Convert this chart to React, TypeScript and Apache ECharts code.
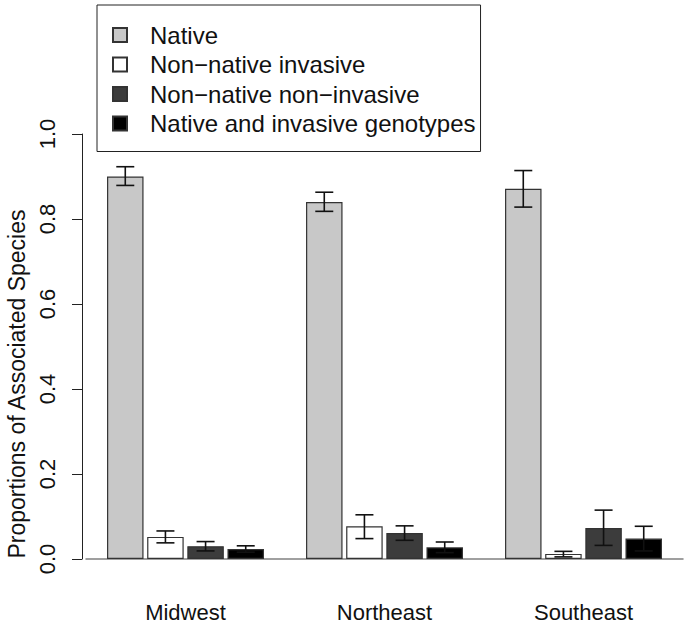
import React, { useEffect, useRef } from "react";
import * as echarts from "echarts";

const regions = ["Midwest", "Northeast", "Southeast"];
const seriesNames = [
  "Native",
  "Non\u2212native invasive",
  "Non\u2212native non\u2212invasive",
  "Native and invasive genotypes",
];
const native = [0.9, 0.84, 0.871];
const nonNativeInvasive = [0.052, 0.077, 0.012];
const nonNativeNonInvasive = [0.03, 0.061, 0.073];
const nativeInvasiveGeno = [0.0235, 0.0275, 0.048];
const nativeErr = [[0.879, 0.923], [0.818, 0.863], [0.828, 0.914]];
const nniErr = [[0.038, 0.066], [0.048, 0.104], [0.005, 0.018]];
const nnniErr = [[0.019, 0.041], [0.044, 0.078], [0.032, 0.115]];
const nigErr = [[0.016, 0.031], [0.015, 0.04], [0.019, 0.077]];
const yTicks = [0, 0.2, 0.4, 0.6, 0.8, 1.0];
const yTitle = "Proportions of Associated Species";

const fills = ["#c8c8c8", "#ffffff", "#3c3c3c", "#000000"];
const FONT = "Liberation Sans, Arial, Helvetica, sans-serif";
const BAR_W = 36.5;
const GAP_FRAC = 0.1;

export default function App() {
  const ref = useRef<HTMLDivElement>(null);
  useEffect(() => {
    if (!ref.current) return;
    const chart = echarts.init(ref.current, null, { renderer: "svg" });
    const values = [native, nonNativeInvasive, nonNativeNonInvasive, nativeInvasiveGeno];
    const errs = [nativeErr, nniErr, nnniErr, nigErr];
    const errData: number[][] = [];
    errs.forEach((e, si) => e.forEach((lh, ci) => errData.push([ci, si, lh[0], lh[1]])));
    const gap = BAR_W * GAP_FRAC;
    const total = 4 * BAR_W + 3 * gap;

    chart.setOption({
      animation: false,
      textStyle: { fontFamily: FONT },
      grid: { left: 86, width: 597, top: 134, bottom: 71 },
      legend: {
        data: seriesNames,
        orient: "vertical",
        left: 97,
        top: 5,
        padding: [18, 5, 16, 15],
        itemWidth: 14,
        itemHeight: 14,
        itemGap: 5.5,
        borderColor: "#222",
        borderWidth: 1,
        icon: "rect",
        selectedMode: false,
        textStyle: { fontSize: 24, color: "#111", lineHeight: 20, padding: [0, 0, 0, 18], fontFamily: FONT },
      },
      xAxis: {
        type: "category",
        data: regions,
        axisLine: { show: true, lineStyle: { color: "#808080", width: 1.5 } },
        axisTick: { show: false },
        axisLabel: { margin: 42, fontSize: 22, color: "#111", fontFamily: FONT },
      },
      yAxis: {
        type: "value",
        min: 0,
        max: 1,
        interval: 0.2,
        offset: 4,
        splitLine: { show: false },
        axisLine: { show: true, lineStyle: { color: "#222", width: 1 } },
        axisTick: { show: true, length: 10, lineStyle: { color: "#222" } },
        axisLabel: {
          rotate: 90,
          margin: 24,
          fontSize: 22,
          color: "#111",
          fontFamily: FONT,
          formatter: (v: number) => (yTicks.some((t) => Math.abs(t - v) < 1e-9) ? v.toFixed(1) : ""),
        },
      },
      graphic: [
        {
          type: "text",
          x: 17,
          y: 384,
          rotation: Math.PI / 2,
          style: {
            text: yTitle,
            fontSize: 23,
            fontFamily: FONT,
            fill: "#111",
            textAlign: "center",
            textVerticalAlign: "middle",
          },
        },
      ],
      series: [
        ...values.map((d, i) => ({
          name: seriesNames[i],
          type: "bar",
          data: d,
          barWidth: BAR_W,
          barGap: GAP_FRAC * 100 + "%",
          itemStyle: { color: fills[i], borderColor: "#333", borderWidth: 1.2 },
        })),
        {
          type: "custom",
          name: "err",
          data: errData,
          z: 10,
          renderItem: (params: any, api: any) => {
            const ci = api.value(0);
            const si = api.value(1);
            const lo = api.coord([ci, api.value(2)]);
            const hi = api.coord([ci, api.value(3)]);
            const off = -total / 2 + si * (BAR_W + gap) + BAR_W / 2;
            const x = lo[0] + off;
            const half = 9;
            const style = { stroke: "#111", lineWidth: 1.6 };
            return {
              type: "group",
              children: [
                { type: "line", shape: { x1: x, y1: lo[1], x2: x, y2: hi[1] }, style },
                { type: "line", shape: { x1: x - half, y1: lo[1], x2: x + half, y2: lo[1] }, style },
                { type: "line", shape: { x1: x - half, y1: hi[1], x2: x + half, y2: hi[1] }, style },
              ],
            };
          },
        },
      ],
    });
    return () => chart.dispose();
  }, []);
  return (
    <div
      ref={ref}
      style={{ position: "absolute", left: 0, top: 0, width: 688, height: 630 }}
    />
  );
}
